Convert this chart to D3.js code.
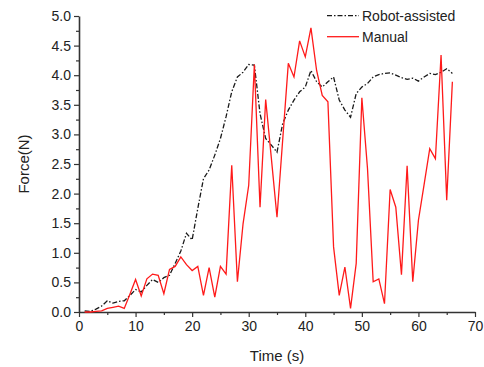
<!DOCTYPE html>
<html lang="en">
<head>
    <meta charset="UTF-8">
    <title>Force vs Time</title>
    <script src="https://d3js.org/d3.v7.min.js"></script>
    <style>
        body { margin: 0; background: #fff; }
        text { font-family: "Liberation Sans", Arial, sans-serif; fill: #222; }
    </style>
</head>
<body>
    <svg width="484" height="367"></svg>
    <script>
        // time in seconds, one sample per second
        const time = d3.range(1, 67);

        const robotAssisted = [
            0.02, 0.01, 0.05, 0.10, 0.19, 0.15, 0.18, 0.19, 0.28, 0.38,
            0.34, 0.45, 0.55, 0.50, 0.58, 0.62, 0.82, 1.03, 1.33, 1.22,
            1.75, 2.25, 2.40, 2.65, 2.93, 3.30, 3.72, 3.97, 4.05, 4.18,
            4.17, 3.35, 2.93, 2.82, 2.70, 3.18, 3.41, 3.58, 3.72, 3.80,
            4.08, 3.89, 3.80, 3.89, 3.97, 3.58, 3.41, 3.29, 3.69, 3.80,
            3.86, 3.97, 4.01, 4.03, 4.04, 4.00, 3.96, 3.93, 3.95, 3.90,
            3.97, 4.03, 4.01, 4.05, 4.11, 4.03
        ];

        const manual = [
            0.00, 0.00, 0.01, 0.02, 0.06, 0.08, 0.10, 0.06, 0.30, 0.55,
            0.27, 0.56, 0.64, 0.62, 0.31, 0.72, 0.77, 0.93, 0.80, 0.70,
            0.77, 0.28, 0.75, 0.25, 0.77, 0.64, 2.48, 0.51, 1.49, 2.14,
            4.18, 1.77, 3.59, 2.60, 1.60, 2.90, 4.20, 3.97, 4.58, 4.31,
            4.80, 4.08, 3.66, 3.55, 1.10, 0.28, 0.76, 0.06, 0.82, 3.62,
            2.42, 0.51, 0.56, 0.14, 2.07, 1.77, 0.63, 2.47, 0.51, 1.55,
            2.15, 2.76, 2.59, 4.34, 1.89, 3.89
        ];

        const xTicks = [0, 10, 20, 30, 40, 50, 60, 70];
        const yTicks = [0, 0.5, 1, 1.5, 2, 2.5, 3, 3.5, 4, 4.5, 5];

        const svg = d3.select("svg");
        const margin = { top: 16, right: 9, bottom: 55, left: 79 };
        const width = 484 - margin.left - margin.right;
        const height = 367 - margin.top - margin.bottom;

        const g = svg.append("g")
            .attr("transform", `translate(${margin.left},${margin.top})`);

        const x = d3.scaleLinear().domain([0, 70]).range([0, width]);
        const y = d3.scaleLinear().domain([0, 5]).range([height, 0]);

        // minor ticks
        g.append("g")
            .attr("transform", `translate(0,${height})`)
            .call(d3.axisBottom(x).tickValues(d3.range(5, 70, 10)).tickSize(3).tickFormat(""))
            .call(a => a.select(".domain").remove());
        g.append("g")
            .call(d3.axisLeft(y).tickValues(d3.range(0.25, 5, 0.5)).tickSize(3).tickFormat(""))
            .call(a => a.select(".domain").remove());

        // major axes
        const xAxis = g.append("g")
            .attr("transform", `translate(0,${height})`)
            .call(d3.axisBottom(x).tickValues(xTicks).tickSize(5).tickSizeOuter(0).tickPadding(4));
        const yAxis = g.append("g")
            .call(d3.axisLeft(y).tickValues(yTicks).tickFormat(d3.format(".1f")).tickSize(5).tickSizeOuter(0).tickPadding(3));

        g.selectAll(".domain").attr("stroke", "#333").attr("stroke-width", 1.6);
        g.selectAll(".tick line").attr("stroke", "#333").attr("stroke-width", 1.2);
        g.selectAll(".tick text").style("font-size", "14px").style("font-family", "Liberation Sans, Arial, sans-serif").attr("fill", "#222");

        // lines
        const lineRobot = d3.line().x((d, i) => x(time[i])).y(d => y(d));
        g.append("path")
            .datum(robotAssisted)
            .attr("fill", "none")
            .attr("stroke", "#1a1a1a")
            .attr("stroke-width", 1.3)
            .attr("stroke-dasharray", "5,2,1.5,2")
            .attr("d", lineRobot);

        g.append("path")
            .datum(manual)
            .attr("fill", "none")
            .attr("stroke", "#ff1a1a")
            .attr("stroke-width", 1.3)
            .attr("d", lineRobot);

        // axis titles
        svg.append("text")
            .attr("x", margin.left + width / 2)
            .attr("y", 361)
            .attr("text-anchor", "middle")
            .style("font-size", "15px")
            .text("Time (s)");

        svg.append("text")
            .attr("transform", `translate(29,${margin.top + height / 2}) rotate(-90)`)
            .attr("text-anchor", "middle")
            .style("font-size", "15px")
            .text("Force(N)");

        // legend
        const legend = svg.append("g");
        const items = [
            { name: "Robot-assisted", color: "#1a1a1a", dash: "5,2,1.5,2", y: 15.7 },
            { name: "Manual", color: "#ff1a1a", dash: null, y: 36.7 }
        ];
        items.forEach(it => {
            legend.append("line")
                .attr("x1", 327).attr("x2", 359)
                .attr("y1", it.y).attr("y2", it.y)
                .attr("stroke", it.color)
                .attr("stroke-width", 1.3)
                .attr("stroke-dasharray", it.dash);
            legend.append("text")
                .attr("x", 362)
                .attr("y", it.y + 5)
                .style("font-size", "14px")
                .text(it.name);
        });
    </script>
</body>
</html>
